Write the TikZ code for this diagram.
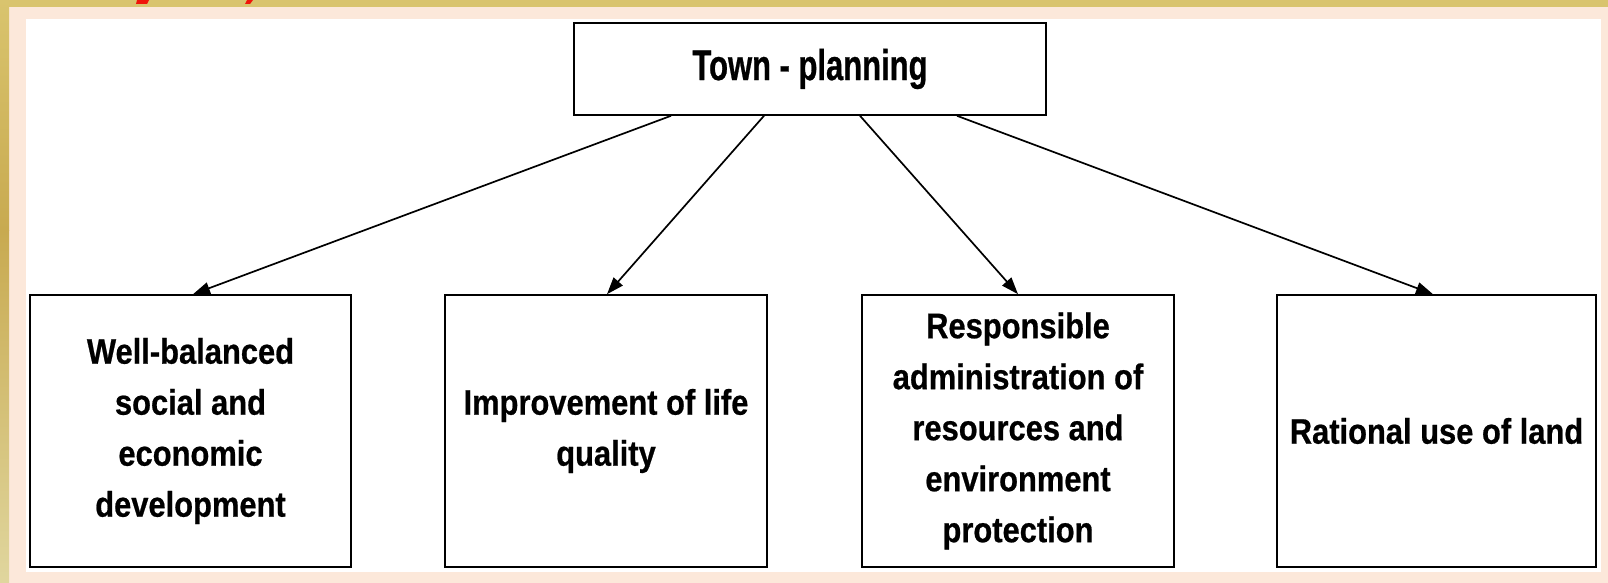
\documentclass[tikz,border=0pt]{standalone}
\usepackage{fontspec}
\usepackage{tikz}
\usetikzlibrary{arrows.meta, positioning, calc}
\setmainfont{Liberation Sans}
\newfontfamily\boxfont[FakeStretch=0.87, FakeBold=0.6]{Liberation Sans}
\newfontfamily\headfont[FakeStretch=0.72, FakeBold=0.6]{Liberation Sans}

\definecolor{slidegold}{RGB}{217,196,110}
\definecolor{slidegoldd}{RGB}{200,170,80}
\definecolor{slidegoldl}{RGB}{224,214,158}
\definecolor{slidepeach}{RGB}{252,232,218}
\definecolor{slidered}{RGB}{240,20,10}

\begin{document}
\begin{tikzpicture}[
  x=1pt, y=-1pt,
  tpbox/.style={draw=black, line width=1.6pt, fill=white, inner sep=0pt,
    minimum width=472pt, minimum height=92pt,
    font=\headfont\bfseries\fontsize{43}{52}\selectfont},
  goalbox/.style={draw=black, line width=1.6pt, fill=white, inner sep=0pt, align=center,
    minimum height=272pt, font=\boxfont\bfseries\fontsize{35.5}{51}\selectfont},
  arr/.style={draw=black, line width=1.7pt, -{Triangle[length=17pt, width=12pt]}}
]
\useasboundingbox (0,0) rectangle (1608,583);

%--------------------------------------------------------------
% Sfondo della diapositiva
%--------------------------------------------------------------
\fill[slidepeach] (0,0) rectangle (1608,583);
\fill[slidegold] (0,0) rectangle (1608,7);
\shade[top color=slidegold, bottom color=slidegoldd] (0,0) rectangle (9,230);
\shade[top color=slidegoldd, bottom color=slidegoldl] (0,230) rectangle (9,583);
\fill[white] (26,19) rectangle (1601,572);

% resti del titolo rosso
\fill[slidered] (137,0) -- (149,0) -- (147,4) -- (136,4) -- cycle;
\fill[slidered] (247,0) -- (253,0) -- (250,4) -- (245,4) -- cycle;

%--------------------------------------------------------------
% Riquadri
%--------------------------------------------------------------
\node[tpbox] (tp) at (810,69) {Town - planning};

\node[goalbox, minimum width=321pt] (g1) at (190.5,431)
  {Well-balanced\\ social and\\ economic\\ development};
\node[goalbox, minimum width=322pt] (g2) at (606,431)
  {Improvement of life\\ quality};
\node[goalbox, minimum width=312pt] (g3) at (1018,431)
  {Responsible\\ administration of\\ resources and\\ environment\\ protection};
\node[goalbox, minimum width=319pt] (g4) at (1436.5,431)
  {Rational use of land};

%--------------------------------------------------------------
% Frecce
%--------------------------------------------------------------
\foreach \g/\sx/\ex in {g1/-139/2.5, g2/-46/1, g3/50/0, g4/147/-3.5}{
  \draw[arr] ([xshift=\sx pt]tp.south) -- ([xshift=\ex pt]\g.north);
}

\end{tikzpicture}
\end{document}
